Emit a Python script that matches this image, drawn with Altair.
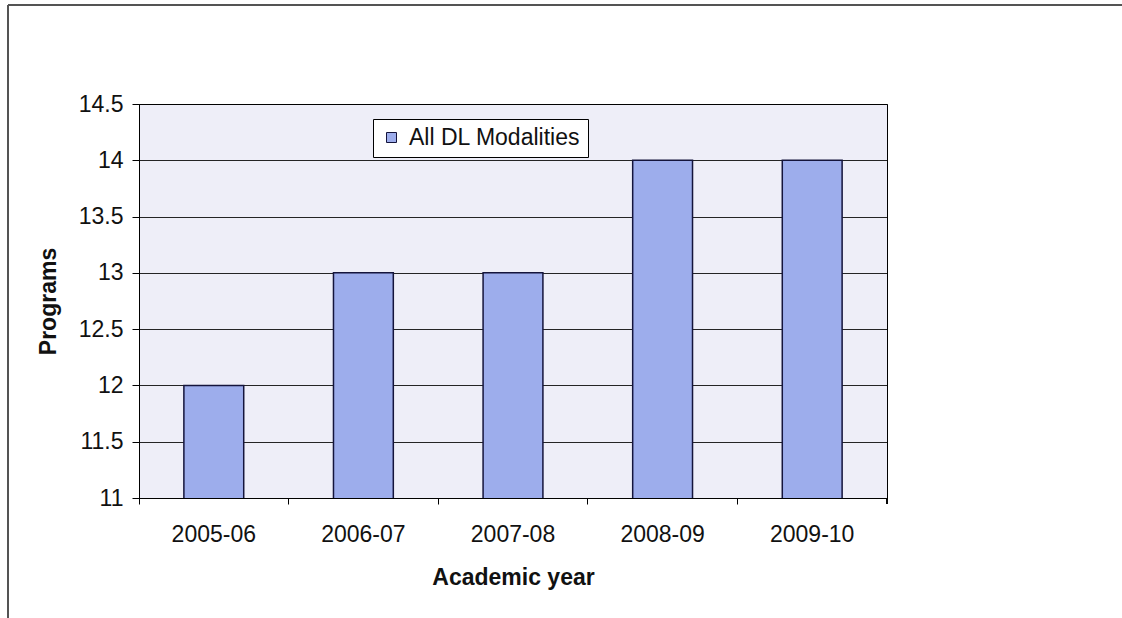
import altair as alt
import pandas as pd

years = ["2005-06", "2006-07", "2007-08", "2008-09", "2009-10"]
programs = [12, 13, 13, 14, 14]
series = "All DL Modalities"
y_ticks = [11, 11.5, 12, 12.5, 13, 13.5, 14, 14.5]

df = pd.DataFrame({"year": years, "programs": programs, "series": [series] * len(years)})

W, H = 748, 394
FONT = "Liberation Sans"

bars = alt.Chart(df).mark_bar(
    width=alt.RelativeBandSize(0.4),
    stroke="#14143c",
    strokeWidth=1.5,
    clip=True,
).encode(
    x=alt.X("year:N", sort=years,
            scale=alt.Scale(paddingInner=0, paddingOuter=0),
            axis=alt.Axis(title="Academic year", labelAngle=0, bandPosition=0,
                          tickSize=6, labelPadding=19, titlePadding=20,
                          grid=False)),
    y=alt.Y("programs:Q",
            scale=alt.Scale(domain=[11, 14.5], nice=False, zero=False),
            axis=alt.Axis(title="Programs", values=y_ticks, format="~g",
                          tickSize=7, labelPadding=9, titlePadding=18,
                          grid=True)),
    color=alt.Color("series:N",
                    scale=alt.Scale(domain=[series], range=["#9dadec"]),
                    legend=alt.Legend(title=None, orient="none", legendX=234, legendY=15,
                                      fillColor="white", strokeColor="#000",
                                      padding=7, symbolType="square", symbolSize=100,
                                      symbolStrokeColor="#14143c", symbolStrokeWidth=1,
                                      labelFontSize=23, labelColor="#111",
                                      labelFont=FONT, labelOffset=6, labelLimit=500)),
)

end_tick = alt.Chart(df).mark_rule(color="#000").encode(
    x=alt.value(W), y=alt.value(H), y2=alt.value(H + 6)
)
frame_left = alt.Chart(df).mark_rule(color="#555", strokeWidth=1.5).encode(
    x=alt.value(-131), y=alt.value(-99), y2=alt.value(H + 130)
)
frame_top = alt.Chart(df).mark_rule(color="#555", strokeWidth=1.5).encode(
    x=alt.value(-131), x2=alt.value(W + 240), y=alt.value(-99)
)

chart = alt.layer(bars, end_tick, frame_left, frame_top).properties(
    width=W, height=H,
    autosize=alt.AutoSizeParams(type="none"),
    padding={"left": 139, "top": 104, "right": 1122 - 139 - W, "bottom": 618 - 104 - H},
    background="white",
).configure(
    font=FONT,
    view=alt.ViewConfig(fill="#eeeef8", stroke="#000", strokeWidth=1),
    axis=alt.AxisConfig(labelFont=FONT, titleFont=FONT, labelFontSize=23,
                        titleFontSize=23, titleFontWeight="bold",
                        domainColor="#000", tickColor="#000", labelColor="#111",
                        titleColor="#111", gridColor="#000", gridOpacity=0.85,
                        gridWidth=1),
)

chart.save("out.html", embed_options={"renderer": "svg", "actions": False})
